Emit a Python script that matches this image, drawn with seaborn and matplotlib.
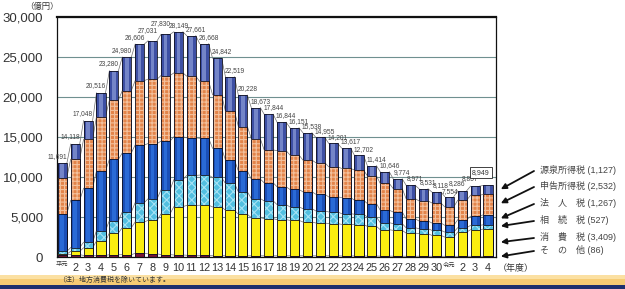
import matplotlib
matplotlib.use('Agg')
import matplotlib.pyplot as plt
from matplotlib.patches import Rectangle
import seaborn as sns
import pandas as pd
import numpy as np

# 年度ラベル (平成元年度～令和4年度)
nendo = ['平元', '2', '3', '4', '5', '6', '7', '8', '9', '10', '11', '12', '13', '14', '15',
         '16', '17', '18', '19', '20', '21', '22', '23', '24', '25', '26', '27', '28', '29', '30',
         '令元', '2', '3', '4']
# ユニークなキー (カテゴリ軸用)
keys = ['H%d' % (i + 1) for i in range(30)] + ['R%d' % (i + 1) for i in range(4)]

# 税目別の税収 (億円)
sonota = [300, 290, 200, 200, 280, 290, 450, 400, 300, 250, 220, 200, 180, 150, 150, 150, 150,
          150, 150, 150, 150, 150, 130, 130, 120, 110, 100, 100, 100, 90, 90, 90, 90, 86]
shohi = [50, 420, 950, 1800, 2720, 3380, 3930, 4180, 5080, 6050, 6230, 6270, 6080, 5690, 5190,
         4770, 4640, 4520, 4430, 4230, 4100, 4020, 3950, 3910, 3710, 3300, 3230, 2890, 2810, 2610,
         2400, 3030, 3320, 3409]
sozoku = [350, 460, 700, 1300, 1550, 1960, 2420, 2700, 3000, 3380, 3750, 3770, 3680, 3350, 2800,
          2390, 2220, 1880, 1680, 1670, 1510, 1460, 1340, 1300, 1170, 880, 840, 670, 630, 630,
          630, 540, 550, 527]
hojin = [4700, 5910, 6750, 7450, 7650, 7380, 7200, 6900, 6100, 5350, 4700, 4600, 3640, 2930, 2600,
         2430, 2260, 2220, 2180, 2100, 2090, 1880, 2010, 1760, 1680, 1550, 1460, 1130, 960, 920,
         840, 1000, 1130, 1267]
shinkoku = [4500, 5140, 6100, 6800, 7400, 7790, 8050, 8050, 8200, 7980, 7700, 7110, 6700, 6070,
            5570, 5060, 4110, 4520, 4310, 3970, 3940, 3770, 3640, 3770, 3470, 3350, 2930, 2510,
            2510, 2510, 2300, 2440, 2640, 2532]
gensen = [1791, 1898, 2348, 2966, 3680, 4180, 4556, 4801, 5150, 5139, 5061, 4718, 4562, 4329,
          3918, 3873, 4464, 3554, 3401, 3418, 3165, 2921, 2547, 1832, 1264, 1456, 1214, 1671,
          1521, 1358, 1294, 1186, 1127, 1127]
totals = [11691, 14118, 17048, 20516, 23280, 24980, 26606, 27031, 27830, 28149, 27661, 26668,
          24842, 22519, 20228, 18673, 17844, 16844, 16151, 15538, 14955, 14201, 13617, 12702,
          11414, 10646, 9774, 8971, 8531, 8118, 7554, 8286, 8857, 8949]

legend_names = ['源泉所得税', '申告所得税', '法　人　税', '相　続　税', '消　費　税', 'そ　の　他']

plt.rcParams['font.family'] = ['Liberation Sans', 'Noto Sans CJK JP']
plt.rcParams['hatch.linewidth'] = 0.8

W, H = 625, 289
fig = plt.figure(figsize=(W / 100, H / 100), dpi=100)
fig.patch.set_facecolor('white')
ax = fig.add_axes([57 / W, 1 - 257 / H, (496 - 57) / W, (257 - 17) / H])

# 下の帯
fig.patches.append(Rectangle((0, 4 / H), 1, 10 / H, transform=fig.transFigure,
                             facecolor='#f6cb74', edgecolor='none', zorder=0))
fig.patches.append(Rectangle((0, 10 / H), 1, 4 / H, transform=fig.transFigure,
                             facecolor='#fbe0a2', edgecolor='none', zorder=0))
fig.patches.append(Rectangle((0, 0), 1, 4 / H, transform=fig.transFigure,
                             facecolor='#1d2f6e', edgecolor='none', zorder=0))

# 積み上げ (下から順) : 値, 色, ハッチ, ハッチ色, 中央の明るい帯
layers = [
    (sonota, '#7a1535', None, None, None),
    (shohi, '#fbee10', None, None, None),
    (sozoku, '#52bfe0', 'xxxx', '#a6e2f4', None),
    (hojin, '#1a4fb8', None, None, '#2a6ad6'),
    (shinkoku, '#e3844a', '++++', '#f3c09c', None),
    (gensen, '#3d4fa4', None, None, '#7485c8'),
]
cums = []
running = np.zeros(len(keys))
for lay in layers:
    running = running + np.array(lay[0])
    cums.append(running.copy())

df = pd.DataFrame({'key': keys})
width = 0.7
for (vals, face, hatch, hcol, inner), c in reversed(list(zip(layers, cums))):
    df['h'] = c
    if hatch:
        sns.barplot(data=df, x='key', y='h', color=face, saturation=1, width=width,
                    errorbar=None, ax=ax, hatch=hatch, edgecolor=hcol, linewidth=0, zorder=2)
    else:
        sns.barplot(data=df, x='key', y='h', color=face, saturation=1, width=width,
                    errorbar=None, ax=ax, linewidth=0, zorder=2)
    if inner:
        sns.barplot(data=df, x='key', y='h', color=inner, saturation=1, width=width * 0.4,
                    errorbar=None, ax=ax, linewidth=0, zorder=2)
    sns.barplot(data=df, x='key', y='h', color='#101020', fill=False, width=width,
                errorbar=None, ax=ax, linewidth=0.6, zorder=2)

# 系列線
half = width / 2
for c in cums:
    xs, ys = [], []
    for i in range(len(keys) - 1):
        xs += [i + half, i + 1 - half, np.nan]
        ys += [c[i], c[i + 1], np.nan]
    ax.plot(xs, ys, color='#707070', lw=0.5, zorder=1.5)

# 合計ラベル
for i, t in enumerate(totals[:-1]):
    if i < 9 or i > 30:
        dx, dy = -0.4, 450
    elif i == 9:
        dx, dy = 0, 350
    elif i == 30:
        dx, dy = 0.1, 150
    else:
        dx, dy = 0.35, 350
    if i in (7, 8):
        dy = 900
    ax.text(i + dx, t + dy, f'{t:,}', fontsize=4.8, ha='center', va='bottom', color='#444444',
            zorder=4)
ax.text(len(keys) - 1.55, 10600, f'{totals[-1]:,}', fontsize=5, ha='center', va='center',
        color='#333333', zorder=4,
        bbox=dict(boxstyle='square,pad=0.3', fc='white', ec='#222222', lw=0.6))

# 軸
ax.set_xlim(-0.41, 33.62)
ax.set_ylim(0, 30000)
ax.set_xlabel('')
ax.set_ylabel('')
ax.set_yticks(range(0, 30001, 5000))
ax.set_yticklabels([f'{v:,}' for v in range(0, 30001, 5000)], fontsize=9.5, color='#333333')
ax.set_xticks(range(len(keys)))
ax.set_xticklabels(nendo, fontsize=7.8, color='#333333')
for lab in ax.get_xticklabels():
    if lab.get_text() in ('平元', '令元'):
        lab.set_fontsize(4.5)
ax.tick_params(axis='both', length=0)
ax.tick_params(axis='y', pad=10)
ax.tick_params(axis='x', pad=4)
ax.yaxis.grid(True, color='#6f9090', lw=0.8)
ax.set_axisbelow(True)
for s in ax.spines.values():
    s.set_color('#111111')
    s.set_linewidth(0.9)
ax.spines['top'].set_linewidth(1.6)

fig.text(25 / W, 1 - 7 / H, '（億円）', fontsize=6, ha='left', va='center', color='#333333')
fig.text(498 / W, 1 - 269 / H, '（年度）', fontsize=6.5, ha='left', va='center', color='#333333')
fig.text(58 / W, 1 - 280 / H, '（注）地方消費税を除いています。', fontsize=5, ha='left',
         va='center', color='#333333')

# 右側の凡例と矢印
text_y = [170, 186, 203, 220, 237, 250]
arrow_y = [8478, 6720, 4836, 3868, 1859, 80]
last_vals = [gensen[-1], shinkoku[-1], hojin[-1], sozoku[-1], shohi[-1], sonota[-1]]
for name, val, ty, ay in zip(legend_names, last_vals, text_y, arrow_y):
    fig.text(540 / W, 1 - ty / H, f'{name} ({val:,})', fontsize=6.5, ha='left', va='center',
             color='#444444')
    ax.annotate('', xy=(1.011, ay), xycoords=('axes fraction', 'data'),
                xytext=(534, H - ty - 1), textcoords='figure pixels',
                arrowprops=dict(arrowstyle='-|>', color='#111111', lw=1.3, mutation_scale=8,
                                shrinkA=0, shrinkB=0),
                annotation_clip=False)

fig.savefig('out.png', dpi=100)
